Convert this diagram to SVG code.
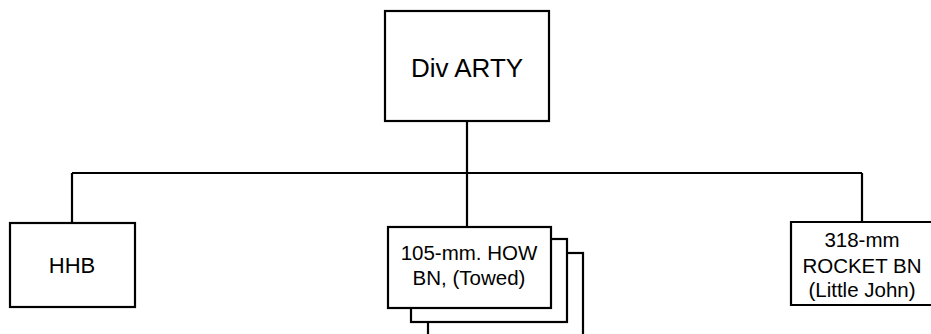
<svg xmlns="http://www.w3.org/2000/svg" width="931" height="334" viewBox="0 0 931 334">
<style>
.box{fill:#fff;stroke:#000;stroke-width:2.2}
.ln{fill:none;stroke:#000;stroke-width:2.2}
text{font-family:"Liberation Sans",Arial,sans-serif;fill:#000;text-anchor:middle}
</style>
<rect width="931" height="334" fill="#fff"/>
<g id="connectors">
<path class="ln" d="M467 121V227M72 173H862M72 173V223M862 173V222"/>
</g>
<g id="div-arty">
<rect class="box" x="385" y="11" width="164" height="110"/>
<text x="467" y="77" font-size="26">Div ARTY</text>
</g>
<g id="hhb">
<rect class="box" x="10" y="223" width="125" height="84"/>
<text x="72" y="273" font-size="22">HHB</text>
</g>
<g id="how-bn">
<rect class="box" x="428" y="253" width="155" height="100"/>
<rect class="box" x="411" y="239" width="156" height="83"/>
<rect class="box" x="388" y="227" width="163" height="81"/>
<text x="469" y="260" font-size="20.5">105-mm. HOW</text>
<text x="469" y="285" font-size="20.5">BN, (Towed)</text>
</g>
<g id="rocket-bn">
<path class="box" d="M940 222H791V305H940"/>
<text x="862" y="247" font-size="20.5">318-mm</text>
<text x="862" y="273" font-size="20.5">ROCKET BN</text>
<text x="862" y="297" font-size="20.5">(Little John)</text>
</g>
</svg>
